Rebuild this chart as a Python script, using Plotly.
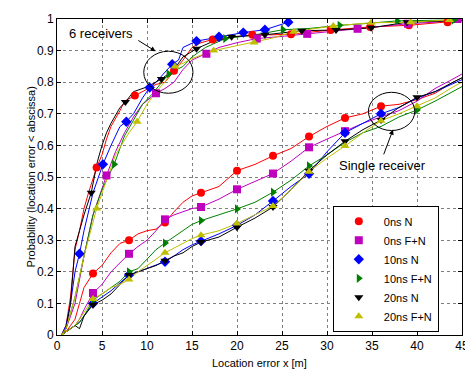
import plotly.graph_objects as go

names = ["0ns N", "0ns F+N", "10ns N", "10ns F+N", "20ns N", "20ns F+N"]
colors = ["#ff0000", "#bf00bf", "#0000ff", "#008000", "#000000", "#bfbf00"]
symbols = ["circle", "square", "diamond", "triangle-right", "triangle-down", "triangle-up"]

# ---- 6 receivers curves ----
six_x = [
    [0.5, 1, 1.5, 2, 2.5, 3, 3.5, 4.4, 5, 5.5, 6, 7, 7.5, 8.65, 10, 11, 12, 13, 14, 15, 16, 17.3, 20, 21.7, 24, 26, 30.4, 34.8, 39.1, 43.4, 45],
    [0.5, 1, 2, 3, 4, 5.5, 6.5, 7.5, 8.5, 9.5, 11, 12, 13, 14, 15, 16.6, 18, 20, 22.2, 25, 27.8, 30, 33.4, 36, 39, 42, 44.5],
    [0.5, 1, 1.5, 2, 2.5, 3, 4, 5.1, 6, 7, 7.7, 8.5, 9.5, 10.3, 11, 12, 12.8, 13.5, 14, 15.5, 18, 20.7, 23.1, 25.7],
    [0.5, 1, 2, 3, 4, 5, 6.35, 7.5, 8.5, 9.5, 10.5, 12.4, 14, 15, 16.5, 18.7, 22, 25.1, 28, 31.4, 34, 37.8, 44.1, 45],
    [0.5, 1, 1.5, 2, 2.5, 3, 3.8, 4.5, 5, 5.5, 6, 7, 7.6, 8.5, 10, 11.6, 13, 14, 15.5, 17, 19.4, 23.1, 27.2, 31, 34.9, 38.9, 45],
    [0.5, 1, 2, 3, 4.4, 5.5, 6.5, 8, 8.9, 10, 11, 12, 13.1, 14, 15, 17.4, 20, 21.9, 24, 26.3, 30.7, 34.9, 39.3, 43.6, 45],
]
six_y = [
    [0, 0.03, 0.12, 0.27, 0.33, 0.40, 0.45, 0.53, 0.57, 0.62, 0.66, 0.71, 0.74, 0.758, 0.78, 0.793, 0.80, 0.836, 0.87, 0.91, 0.925, 0.935, 0.945, 0.95, 0.95, 0.952, 0.965, 0.975, 0.98, 0.99, 0.995],
    [0, 0.02, 0.10, 0.25, 0.38, 0.505, 0.58, 0.64, 0.69, 0.73, 0.765, 0.78, 0.80, 0.84, 0.87, 0.89, 0.91, 0.925, 0.938, 0.945, 0.953, 0.96, 0.969, 0.975, 0.985, 0.99, 1.0],
    [0, 0.03, 0.10, 0.20, 0.257, 0.33, 0.45, 0.54, 0.60, 0.66, 0.675, 0.70, 0.75, 0.783, 0.80, 0.83, 0.857, 0.87, 0.91, 0.93, 0.944, 0.957, 0.966, 0.99],
    [0, 0.02, 0.12, 0.25, 0.38, 0.46, 0.54, 0.63, 0.68, 0.73, 0.76, 0.826, 0.85, 0.88, 0.91, 0.938, 0.95, 0.966, 0.97, 0.98, 0.985, 0.994, 0.997, 1.0],
    [0, 0.02, 0.10, 0.28, 0.33, 0.38, 0.45, 0.55, 0.60, 0.64, 0.67, 0.72, 0.737, 0.77, 0.785, 0.81, 0.84, 0.88, 0.906, 0.925, 0.944, 0.95, 0.963, 0.965, 0.972, 0.99, 0.995],
    [0, 0.02, 0.12, 0.25, 0.40, 0.49, 0.57, 0.64, 0.675, 0.73, 0.77, 0.80, 0.85, 0.86, 0.875, 0.90, 0.915, 0.926, 0.94, 0.96, 0.978, 0.988, 0.99, 0.997, 0.998],
]
six_mx = [
    [4.4, 8.65, 13.0, 17.3, 21.7, 26.0, 30.4, 34.8, 39.1, 43.4],
    [5.5, 11.0, 16.6, 22.2, 27.8, 33.4, 39.0, 44.5],
    [2.5, 5.1, 7.7, 10.3, 12.8, 15.5, 18.0, 20.7, 23.1, 25.7],
    [6.35, 12.4, 18.7, 25.1, 31.4, 37.8, 44.1],
    [3.8, 7.6, 11.6, 15.5, 19.4, 23.1, 27.2, 31.0, 34.9, 38.9],
    [4.4, 8.9, 13.1, 17.4, 21.9, 26.3, 30.7, 34.9, 39.3, 43.6],
]
six_my = [
    [0.53, 0.758, 0.836, 0.935, 0.95, 0.952, 0.965, 0.975, 0.98, 0.99],
    [0.505, 0.765, 0.89, 0.938, 0.953, 0.969, 0.985, 1.0],
    [0.257, 0.54, 0.675, 0.783, 0.857, 0.93, 0.944, 0.957, 0.966, 0.99],
    [0.54, 0.826, 0.938, 0.966, 0.98, 0.994, 0.997],
    [0.45, 0.737, 0.81, 0.906, 0.944, 0.95, 0.963, 0.965, 0.972, 0.99],
    [0.40, 0.675, 0.85, 0.90, 0.926, 0.96, 0.978, 0.988, 0.99, 0.997],
]

# ---- single receiver curves ----
one_x = [0.5, 1, 1.5, 2, 2.5, 3, 4, 5, 6, 7, 8, 9, 10, 11, 12, 13, 14, 15, 16, 18, 20, 22, 24, 26, 28, 30, 32, 34, 36, 38, 40, 42, 44, 45]
one_y = [
    [0, 0.01, 0.03, 0.05, 0.10, 0.15, 0.195, 0.22, 0.26, 0.29, 0.30, 0.32, 0.33, 0.335, 0.356, 0.39, 0.42, 0.44, 0.45, 0.47, 0.52, 0.54, 0.567, 0.59, 0.628, 0.66, 0.687, 0.70, 0.724, 0.73, 0.745, 0.765, 0.80, 0.814],
    [0, 0.01, 0.02, 0.03, 0.05, 0.08, 0.133, 0.16, 0.20, 0.23, 0.257, 0.28, 0.30, 0.33, 0.366, 0.38, 0.39, 0.40, 0.405, 0.43, 0.461, 0.485, 0.511, 0.55, 0.594, 0.62, 0.645, 0.67, 0.69, 0.71, 0.74, 0.78, 0.81, 0.826],
    [0, 0.01, 0.02, 0.03, 0.04, 0.06, 0.10, 0.12, 0.14, 0.165, 0.19, 0.20, 0.21, 0.22, 0.232, 0.25, 0.27, 0.285, 0.297, 0.32, 0.347, 0.38, 0.424, 0.47, 0.51, 0.58, 0.64, 0.67, 0.70, 0.72, 0.75, 0.77, 0.795, 0.808],
    [0, 0.01, 0.02, 0.03, 0.04, 0.06, 0.11, 0.13, 0.15, 0.17, 0.20, 0.21, 0.24, 0.27, 0.291, 0.31, 0.33, 0.35, 0.362, 0.38, 0.399, 0.42, 0.452, 0.49, 0.535, 0.57, 0.61, 0.64, 0.66, 0.69, 0.712, 0.74, 0.77, 0.786],
    [0, 0.01, 0.02, 0.03, 0.02, 0.06, 0.096, 0.11, 0.13, 0.16, 0.19, 0.20, 0.21, 0.22, 0.235, 0.25, 0.26, 0.28, 0.294, 0.31, 0.341, 0.37, 0.405, 0.46, 0.52, 0.57, 0.613, 0.65, 0.68, 0.72, 0.752, 0.77, 0.80, 0.814],
    [0, 0.01, 0.02, 0.03, 0.05, 0.07, 0.114, 0.13, 0.15, 0.16, 0.176, 0.20, 0.22, 0.24, 0.26, 0.275, 0.29, 0.305, 0.316, 0.33, 0.353, 0.38, 0.408, 0.46, 0.517, 0.56, 0.598, 0.64, 0.678, 0.70, 0.724, 0.75, 0.785, 0.80],
]
one_mx = [
    [4, 8, 12, 16, 20, 24, 28, 32, 36],
    [4, 8, 12, 16, 20, 24, 28, 32],
    [4, 8, 12, 16, 20, 24, 28, 32, 36],
    [4, 8, 12, 16, 20, 24, 28, 40],
    [4, 8, 12, 16, 20, 24, 28, 32, 36, 40],
    [4, 8, 12, 16, 20, 24, 28, 32, 36, 40],
]
one_my = [
    [0.195, 0.30, 0.356, 0.45, 0.52, 0.567, 0.628, 0.687, 0.724],
    [0.133, 0.257, 0.366, 0.405, 0.461, 0.511, 0.594, 0.645],
    [0.10, 0.19, 0.232, 0.297, 0.347, 0.424, 0.51, 0.64, 0.70],
    [0.11, 0.20, 0.291, 0.362, 0.399, 0.452, 0.535, 0.712],
    [0.096, 0.19, 0.235, 0.294, 0.341, 0.405, 0.52, 0.613, 0.68, 0.752],
    [0.114, 0.176, 0.26, 0.316, 0.353, 0.408, 0.517, 0.598, 0.678, 0.724],
]

x_ticks = [0, 5, 10, 15, 20, 25, 30, 35, 40, 45]
y_ticks = [0, 0.1, 0.2, 0.3, 0.4, 0.5, 0.6, 0.7, 0.8, 0.9, 1]

FONT = "Liberation Sans, Arial, Helvetica, sans-serif"

fig = go.Figure()
for i in range(6):
    fig.add_trace(go.Scatter(x=six_x[i], y=six_y[i], mode="lines",
                             line=dict(color=colors[i], width=1), showlegend=False, hoverinfo="skip"))
    fig.add_trace(go.Scatter(x=one_x, y=one_y[i], mode="lines",
                             line=dict(color=colors[i], width=1), showlegend=False, hoverinfo="skip"))
for i in range(6):
    mk = dict(color=colors[i], symbol=symbols[i], size=8, line=dict(width=0))
    fig.add_trace(go.Scatter(x=six_mx[i], y=six_my[i], mode="markers", marker=mk,
                             showlegend=False, name=names[i]))
    fig.add_trace(go.Scatter(x=one_mx[i], y=one_my[i], mode="markers", marker=mk,
                             showlegend=True, name=names[i]))

axis_common = dict(
    showline=True, linecolor="black", linewidth=1, mirror="ticks",
    ticks="inside", ticklen=4, tickcolor="black",
    showgrid=True, gridcolor="#7f7f7f", griddash="dot", gridwidth=1,
    zeroline=False, tickfont=dict(family=FONT, size=12, color="black"),
    ticklabeloverflow="allow",
)
fig.update_xaxes(range=[0, 45], tickvals=x_ticks, ticktext=[str(v) for v in x_ticks], **axis_common)
fig.update_yaxes(range=[0, 1], tickvals=y_ticks, ticktext=["0" if v == 0 else ("1" if v == 1 else f"{v:.1f}") for v in y_ticks], **axis_common)

fig.add_shape(type="circle", xref="x", yref="y", x0=9.64, x1=15.11, y0=0.765, y1=0.898,
              line=dict(color="black", width=1))
fig.add_shape(type="circle", xref="x", yref="y", x0=34.6, x1=39.75, y0=0.647, y1=0.768,
              line=dict(color="black", width=1))

fig.add_annotation(x=4.9, y=0.954, xref="x", yref="y", text="6 receivers", showarrow=False,
                   font=dict(family=FONT, size=13, color="black"))
fig.add_annotation(x=36.2, y=0.536, xref="x", yref="y", text="Single receiver", showarrow=False,
                   font=dict(family=FONT, size=13, color="black"))
fig.add_annotation(x=10.95, y=0.898, ax=8.87, ay=0.935, xref="x", yref="y", axref="x", ayref="y",
                   text="", showarrow=True, arrowhead=2, arrowsize=1, arrowwidth=1, arrowcolor="black")
fig.add_annotation(x=37.34, y=0.650, ax=36.24, ay=0.567, xref="x", yref="y", axref="x", ayref="y",
                   text="", showarrow=True, arrowhead=2, arrowsize=1, arrowwidth=1, arrowcolor="black")

fig.add_annotation(x=0.5, y=-0.063, xref="paper", yref="paper", text="Location error x [m]",
                   showarrow=False, yanchor="top", font=dict(family=FONT, size=11, color="black"))
fig.add_annotation(x=-0.083, y=0.5, xref="paper", yref="paper",
                   text="Probability (location error < abscissa)", textangle=-90,
                   showarrow=False, font=dict(family=FONT, size=11, color="black"))

# page body has an 8px default margin: figure is offset by it
fig.update_layout(
    width=465, height=364,
    margin=dict(l=49, r=5, t=4, b=37),
    paper_bgcolor="white", plot_bgcolor="white",
    font=dict(family=FONT, size=12, color="black"),
    legend=dict(x=0.681, y=0.409, xanchor="left", yanchor="top",
                bgcolor="white", bordercolor="black", borderwidth=1,
                font=dict(family=FONT, size=11, color="black"),
                itemwidth=40),
    showlegend=True,
)

fig.write_html("out.html", config={"displayModeBar": False})
